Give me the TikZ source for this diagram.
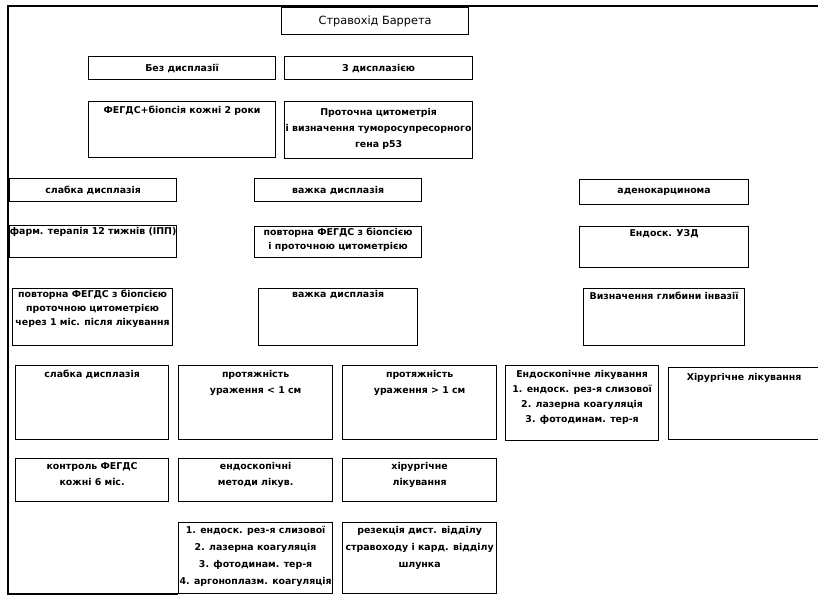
\documentclass[tikz,border=0pt]{standalone}
\usepackage{fontspec}
\setmainfont{DejaVu Sans}
\begin{document}
\begin{tikzpicture}[x=1pt,y=-1pt,
  box/.style={draw=black,line width=1.2pt,fill=white,inner sep=0pt,anchor=north west},
  txt/.style={font=\bfseries\fontsize{9.4}{15}\selectfont,align=center,inner sep=0pt,anchor=center},
  frame/.style={draw=black,line width=1.8pt}]
\useasboundingbox (0,0) rectangle (818,596);
% frame
\coordinate (ftr) at (818,6);
\coordinate (ftl) at (8,6);
\coordinate (fbl) at (8,594);
\coordinate (fbr) at (178,594);
\draw[frame] (ftr) -- (ftl) -- (fbl) -- (fbr);
% boxes: name, x1,y1,x2,y2
\newcommand{\bx}[5]{\node[box,minimum width={#4-#2},minimum height={#5-#3}] (#1) at (#2,#3) {};}
\bx{title}{281}{7}{468}{34}
\bx{bez}{88}{56}{275}{79}
\bx{zd}{284}{56}{472}{79}
\bx{feg}{88}{101}{275}{157}
\bx{prot}{284}{101}{472}{158}
\bx{slab}{9}{178}{176}{201}
\bx{vazh}{254}{178}{421}{201}
\bx{aden}{579}{179}{748}{204}
\bx{farm}{9}{225}{176}{257}
\bx{povt}{254}{226}{421}{257}
\bx{usd}{579}{226}{748}{267}
\bx{povtb}{12}{288}{172}{345}
\bx{vazhb}{258}{288}{417}{345}
\bx{vyzn}{583}{288}{744}{345}
\bx{slabb}{15}{365}{168}{439}
\bx{protm}{178}{365}{332}{439}
\bx{protb}{342}{365}{496}{439}
\bx{endl}{505}{365}{658}{440}
\bx{hir}{668}{367}{819}{439}
\bx{kontr}{15}{458}{168}{501}
\bx{endm}{178}{458}{332}{501}
\bx{hirl}{342}{458}{496}{501}
\bx{list}{178}{522}{332}{593}
\bx{rez}{342}{522}{496}{593}
% texts
\node[txt,font=\fontsize{11.3}{13}\selectfont] (ttitle) at (title.center) {Стравохід Баррета};
\node[txt] (tbez) at (bez.center) {Без дисплазії};
\node[txt] (tzd) at (zd.center) {З дисплазією};
\node[txt,anchor=north] (tfeg) at ([yshift=-5]feg.north) {ФЕГДС+біопсія кожні 2 роки};
\node[txt,anchor=north,font=\bfseries\fontsize{9.4}{16}\selectfont] (tprot) at ([yshift=-7]prot.north) {Проточна цитометрія\\і визначення туморосупресорного\\гена р53};
\node[txt] (tslab) at (slab.center) {слабка дисплазія};
\node[txt] (tvazh) at (vazh.center) {важка дисплазія};
\node[txt] (taden) at (aden.center) {аденокарцинома};
\node[txt,anchor=north] (tfarm) at ([yshift=-2]farm.north) {фарм. терапія 12 тижнів (ІПП)};
\node[txt,anchor=north,font=\bfseries\fontsize{9.4}{13.5}\selectfont] (tpovt) at ([yshift=-2]povt.north) {повторна ФЕГДС з біопсією\\і проточною цитометрією};
\node[txt,anchor=north] (tusd) at ([yshift=-3]usd.north) {Ендоск. УЗД};
\node[txt,anchor=north,font=\bfseries\fontsize{9.4}{14}\selectfont] (tpovtb) at ([yshift=-2]povtb.north) {повторна ФЕГДС з біопсією\\проточною цитометрією\\через 1 міс. після лікування};
\node[txt,anchor=north] (tvazhb) at ([yshift=-2]vazhb.north) {важка дисплазія};
\node[txt,anchor=north] (tvyzn) at ([yshift=-4]vyzn.north) {Визначення глибини інвазії};
\node[txt,anchor=north] (tslabb) at ([yshift=-5]slabb.north) {слабка дисплазія};
\node[txt,anchor=north,font=\bfseries\fontsize{9.4}{16.5}\selectfont] (tprotm) at ([yshift=-5]protm.north) {протяжність\\ураження < 1 см};
\node[txt,anchor=north,font=\bfseries\fontsize{9.4}{16.5}\selectfont] (tprotb) at ([yshift=-5]protb.north) {протяжність\\ураження > 1 см};
\node[txt,anchor=north,font=\bfseries\fontsize{9.4}{15}\selectfont] (tendl) at ([yshift=-5]endl.north) {Ендоскопічне лікування\\1. ендоск. рез-я слизової\\2. лазерна коагуляція\\3. фотодинам. тер-я};
\node[txt,anchor=north] (thir) at ([yshift=-6]hir.north) {Хірургічне лікування};
\node[txt,anchor=north,font=\bfseries\fontsize{9.4}{16}\selectfont] (tkontr) at ([yshift=-4]kontr.north) {контроль ФЕГДС\\кожні 6 міс.};
\node[txt,anchor=north,font=\bfseries\fontsize{9.4}{16}\selectfont] (tendm) at ([yshift=-4]endm.north) {ендоскопічні\\методи лікув.};
\node[txt,anchor=north,font=\bfseries\fontsize{9.4}{16}\selectfont] (thirl) at ([yshift=-4]hirl.north) {хірургічне\\лікування};
\node[txt,anchor=north,font=\bfseries\fontsize{9.4}{17}\selectfont] (tlist) at ([yshift=-4]list.north) {1. ендоск. рез-я слизової\\2. лазерна коагуляція\\3. фотодинам. тер-я\\4. аргоноплазм. коагуляція};
\node[txt,anchor=north,font=\bfseries\fontsize{9.4}{17}\selectfont] (trez) at ([yshift=-4]rez.north) {резекція дист. відділу\\стравоходу і кард. відділу\\шлунка};
\end{tikzpicture}
\end{document}
